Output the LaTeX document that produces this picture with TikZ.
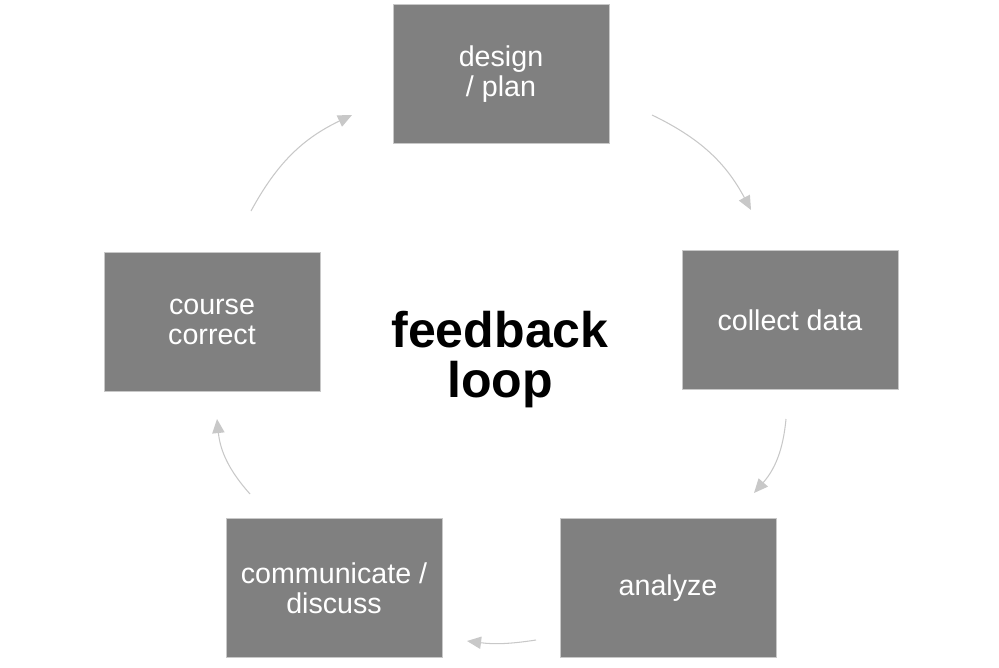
\documentclass[tikz,border=0pt]{standalone}
\usepackage{fontspec}
\setmainfont{Liberation Sans}
\usetikzlibrary{arrows.meta, positioning}
\definecolor{BoxGray}{RGB}{128,128,128}
\definecolor{EdgeGray}{RGB}{200,200,200}
\definecolor{LoopGray}{RGB}{200,200,200}

\begin{document}
\begin{tikzpicture}[
          x=0.02cm, y=-0.02cm,
          stage/.style={rectangle, draw=EdgeGray, line width=0.5pt, fill=BoxGray, text=white, minimum width=4.32cm, minimum height=2.78cm, align=center, font=\fontsize{16.3}{17}\selectfont},
          loop/.style={-{Triangle[length=8pt, width=7pt]}, line width=0.6pt, LoopGray, bend left=18},
          title/.style={align=center, font=\fontsize{28.5}{28.5}\selectfont\bfseries}
        ]
          \useasboundingbox (0,0) rectangle (999,668);

          \node (design) [stage] at (501,74) {design\\/ plan};
          \node (collect) [stage] at (790,320) {collect data};
          \node (analyze) [stage] at (668,588) {analyze};
          \node (discuss) [stage] at (334,588) {communicate /\\discuss};
          \node (correct) [stage] at (212,322) {course\\correct};

          \node (feedback) [title] at (500,360) {feedback\\loop};

          \coordinate (d-out) at (652,115);
          \coordinate (c-in) at (751,210);
          \coordinate (c-out) at (786,419);
          \coordinate (a-in) at (754,493);
          \coordinate (a-out) at (536,640);
          \coordinate (m-in) at (467,641);
          \coordinate (m-out) at (250,494);
          \coordinate (k-in) at (217,419);
          \coordinate (k-out) at (251,211);
          \coordinate (d-in) at (352,115);

          \draw [loop] (d-out) to (c-in);
          \draw [loop] (c-out) to (a-in);
          \draw [loop, bend left=8] (a-out) to (m-in);
          \draw [loop] (m-out) to (k-in);
          \draw [loop] (k-out) to (d-in);
        \end{tikzpicture}
\end{document}
